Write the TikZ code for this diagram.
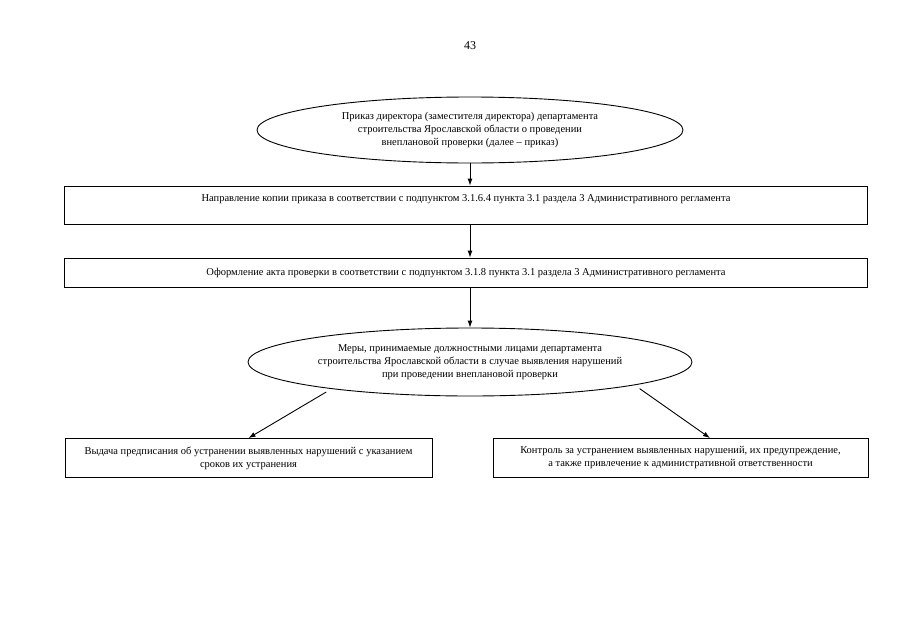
\documentclass[tikz,border=0pt]{standalone}
\usepackage{fontspec}
\setmainfont{Liberation Serif}
\usetikzlibrary{arrows.meta, shapes.geometric}

\begin{document}
\begin{tikzpicture}[x=1pt, y=-1pt, ->, >={Latex[length=7pt, width=5pt]}, line width=0.9pt,
    font=\fontsize{10.5}{13}\selectfont,
    oval/.style={draw, ellipse, align=center, inner sep=0pt},
    stepbox/.style={draw, rectangle, align=center, -}]
    \useasboundingbox (0,0) rectangle (905,640);
    % page number
    \node (page) at (470,46) {\fontsize{12}{14}\selectfont 43};
    % order and the two steps after it
    \node[oval, minimum width=426pt, minimum height=66pt] (order) at (470,130)
        {Приказ директора (заместителя директора) департамента\\
         строительства Ярославской области о проведении\\
         внеплановой проверки (далее – приказ)};
    \node[stepbox, minimum width=803pt, minimum height=38pt] (copy) at (466,205)
        {Направление копии приказа в соответствии с подпунктом 3.1.6.4 пункта 3.1 раздела 3 Административного регламента\\ \mbox{}};
    \node[stepbox, minimum width=803pt, minimum height=29pt] (act) at (466,272.5)
        {Оформление акта проверки в соответствии с подпунктом 3.1.8 пункта 3.1 раздела 3 Административного регламента};
    % measures
    \node[oval, minimum width=444pt, minimum height=68pt] (measures) at (470,362)
        {Меры, принимаемые должностными лицами департамента\\
         строительства Ярославской области в случае выявления нарушений\\
         при проведении внеплановой проверки};
    \node[stepbox, minimum width=367pt, minimum height=39pt] (order2) at (248.5,458)
        {Выдача предписания об устранении выявленных нарушений с указанием\\
         сроков их устранения};
    \node[stepbox, minimum width=375pt, minimum height=39pt] (control) at (680.5,458)
        {Контроль за устранением выявленных нарушений, их предупреждение,\\
         а также привлечение к административной ответственности};
    \coordinate (controlTop) at ([xshift=29.5pt]control.north);
    % arrows
    \draw (order.south) -- (copy.north -| order.south);
    \draw (copy.south -| order.south) -- (act.north -| order.south);
    \draw (act.south -| order.south) -- (measures.north);
    \draw[shorten <=6pt] (measures.191) -- (order2.north);
    \draw[shorten <=6pt] (measures.352) -- (controlTop);
\end{tikzpicture}
\end{document}
